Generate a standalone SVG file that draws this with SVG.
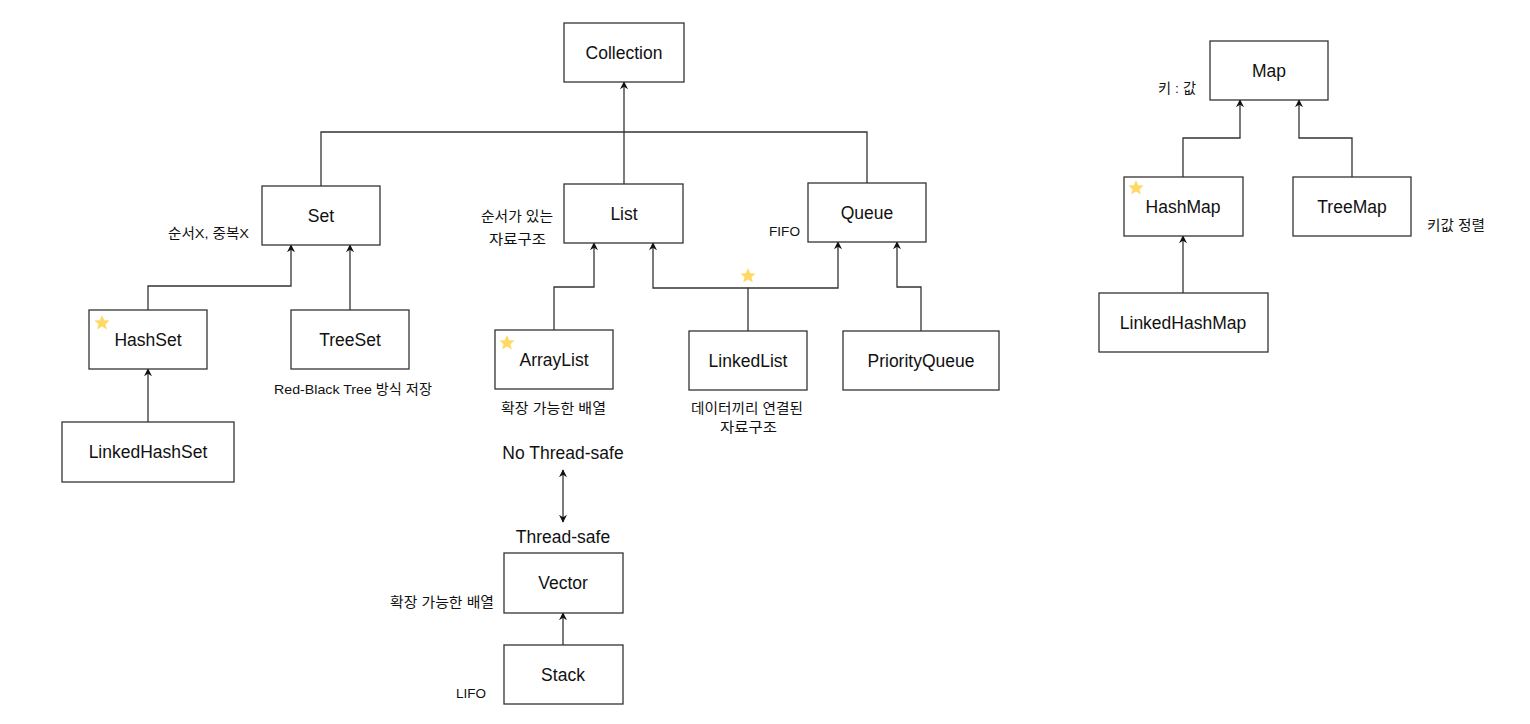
<svg xmlns="http://www.w3.org/2000/svg" width="1530" height="724" viewBox="0 0 1530 724">
<style>
.n rect{fill:#fff;stroke:#333;stroke-width:1.3}
.n text{font-family:"Liberation Sans",Arial,sans-serif;font-size:17.5px;fill:#111;text-anchor:middle;dominant-baseline:central}
.a{font-family:"Liberation Sans","Noto Sans CJK KR",sans-serif;font-size:13.5px;fill:#111}
.big{font-family:"Liberation Sans",sans-serif;font-size:17.5px;fill:#111;text-anchor:middle}
.c path,.c line{fill:none;stroke:#333;stroke-width:1.3}
.star{fill:#FFD966}
</style>
<defs>
<marker id="ar" viewBox="0 0 10 10" refX="9" refY="5" markerWidth="8" markerHeight="8" orient="auto-start-reverse" markerUnits="userSpaceOnUse">
<path d="M0,0 L10,5 L0,10 L3,5 Z" fill="#111" stroke="none"/>
</marker>
<path id="st" d="M0,-8 L2.2,-2.8 L7.6,-2.4 L3.5,1.2 L4.8,6.6 L0,3.6 L-4.8,6.6 L-3.5,1.2 L-7.6,-2.4 L-2.2,-2.8 Z"/>
</defs>
<rect width="1530" height="724" fill="#fff"/>
<g class="c">
<line x1="624" y1="132" x2="624" y2="82" marker-end="url(#ar)"/>
<path d="M321,186 L321,132 L867,132 L867,183"/>
<line x1="624" y1="132" x2="624" y2="184"/>
<path d="M148,310 L148,286 L291,286 L291,245" marker-end="url(#ar)"/>
<line x1="350" y1="310" x2="350" y2="245" marker-end="url(#ar)"/>
<line x1="148" y1="422" x2="148" y2="369" marker-end="url(#ar)"/>
<path d="M554,330 L554,287 L594,287 L594,243" marker-end="url(#ar)"/>
<path d="M748,331 L748,288 L653,288 L653,243" marker-end="url(#ar)"/>
<path d="M748,288 L838,288 L838,242" marker-end="url(#ar)"/>
<path d="M921,331 L921,287 L897,287 L897,242" marker-end="url(#ar)"/>
<line x1="563" y1="470" x2="563" y2="522" marker-start="url(#ar)" marker-end="url(#ar)"/>
<line x1="563" y1="645" x2="563" y2="613" marker-end="url(#ar)"/>
<path d="M1183,177 L1183,138 L1240,138 L1240,100" marker-end="url(#ar)"/>
<path d="M1352,177 L1352,138 L1299,138 L1299,100" marker-end="url(#ar)"/>
<line x1="1183" y1="293" x2="1183" y2="236" marker-end="url(#ar)"/>
</g>
<g id="collection" class="n"><rect x="564" y="23" width="120" height="59"/><text x="624" y="53">Collection</text></g>
<g id="set" class="n"><rect x="262" y="186" width="118" height="59"/><text x="321" y="216">Set</text></g>
<g id="list" class="n"><rect x="564" y="184" width="119" height="59"/><text x="624" y="214">List</text></g>
<g id="queue" class="n"><rect x="808" y="183" width="118" height="59"/><text x="867" y="213">Queue</text></g>
<g id="hashset" class="n"><rect x="89" y="310" width="118" height="59"/><text x="148" y="340">HashSet</text></g>
<g id="treeset" class="n"><rect x="291" y="310" width="118" height="59"/><text x="350" y="340">TreeSet</text></g>
<g id="linkedhashset" class="n"><rect x="62" y="422" width="172" height="60"/><text x="148" y="452">LinkedHashSet</text></g>
<g id="arraylist" class="n"><rect x="495" y="330" width="118" height="59"/><text x="554" y="360">ArrayList</text></g>
<g id="linkedlist" class="n"><rect x="689" y="331" width="118" height="59"/><text x="748" y="361">LinkedList</text></g>
<g id="priorityqueue" class="n"><rect x="843" y="331" width="156" height="59"/><text x="921" y="361">PriorityQueue</text></g>
<g id="vector" class="n"><rect x="504" y="553" width="119" height="60"/><text x="563" y="583">Vector</text></g>
<g id="stack" class="n"><rect x="504" y="645" width="119" height="59"/><text x="563" y="675">Stack</text></g>
<g id="map" class="n"><rect x="1210" y="41" width="118" height="59"/><text x="1269" y="71">Map</text></g>
<g id="hashmap" class="n"><rect x="1124" y="177" width="119" height="59"/><text x="1183" y="207">HashMap</text></g>
<g id="treemap" class="n"><rect x="1293" y="177" width="118" height="59"/><text x="1352" y="207">TreeMap</text></g>
<g id="linkedhashmap" class="n"><rect x="1099" y="293" width="169" height="59"/><text x="1183" y="323">LinkedHashMap</text></g>
<g id="stars" class="star">
<use href="#st" x="102" y="323"/>
<use href="#st" x="507" y="343"/>
<use href="#st" x="748" y="276"/>
<use href="#st" x="1136" y="188"/>
</g>
<g id="labels">
<text class="a" x="168" y="238" textLength="81" lengthAdjust="spacingAndGlyphs">순서X, 중복X</text>
<text class="a" x="481" y="221" textLength="72" lengthAdjust="spacingAndGlyphs">순서가 있는</text>
<text class="a" x="489" y="244" textLength="57" lengthAdjust="spacingAndGlyphs">자료구조</text>
<text class="a" x="769" y="236" textLength="31" lengthAdjust="spacingAndGlyphs">FIFO</text>
<text class="a" x="274" y="394" textLength="158" lengthAdjust="spacingAndGlyphs">Red-Black Tree 방식 저장</text>
<text class="a" x="501" y="413" textLength="105" lengthAdjust="spacingAndGlyphs">확장 가능한 배열</text>
<text class="a" x="691" y="413" textLength="112" lengthAdjust="spacingAndGlyphs">데이터끼리 연결된</text>
<text class="a" x="720" y="432" textLength="57" lengthAdjust="spacingAndGlyphs">자료구조</text>
<text class="big" x="563" y="459">No Thread-safe</text>
<text class="big" x="563" y="543">Thread-safe</text>
<text class="a" x="390" y="607" textLength="104" lengthAdjust="spacingAndGlyphs">확장 가능한 배열</text>
<text class="a" x="456" y="698" textLength="30" lengthAdjust="spacingAndGlyphs">LIFO</text>
<text class="a" x="1158" y="93" textLength="38" lengthAdjust="spacingAndGlyphs">키 : 값</text>
<text class="a" x="1427" y="230" textLength="58" lengthAdjust="spacingAndGlyphs">키값 정렬</text>
</g>
</svg>
